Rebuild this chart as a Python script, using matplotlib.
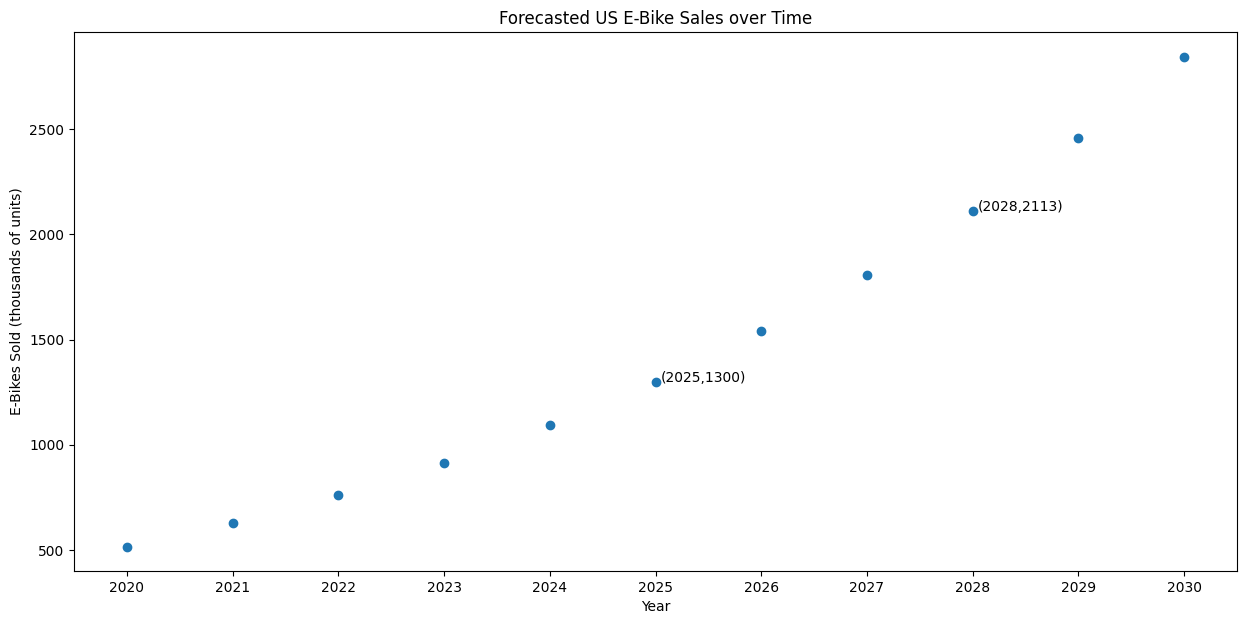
import matplotlib.pyplot as plt

years = [2020, 2021, 2022, 2023, 2024, 2025, 2026, 2027, 2028, 2029, 2030]
sales = [517, 629, 762, 914, 1095, 1300, 1543, 1808, 2113, 2460, 2845]
labelled = [2025, 2028]

fig = plt.figure(figsize=(12.46, 6.24), dpi=100)
ax = fig.add_axes([74/1246, 1 - 571/624, (1237-74)/1246, (571-32)/624])

ax.scatter(years, sales)
for x, y in zip(years, sales):
    if x in labelled:
        ax.annotate(f"({x},{y})", (x, y), xytext=(3.5, 0), textcoords='offset points')

ax.set_xticks(years)
ax.set_title("Forecasted US E-Bike Sales over Time")
ax.set_xlabel("Year")
ax.set_ylabel("E-Bikes Sold (thousands of units)")

fig.savefig("out.png")
